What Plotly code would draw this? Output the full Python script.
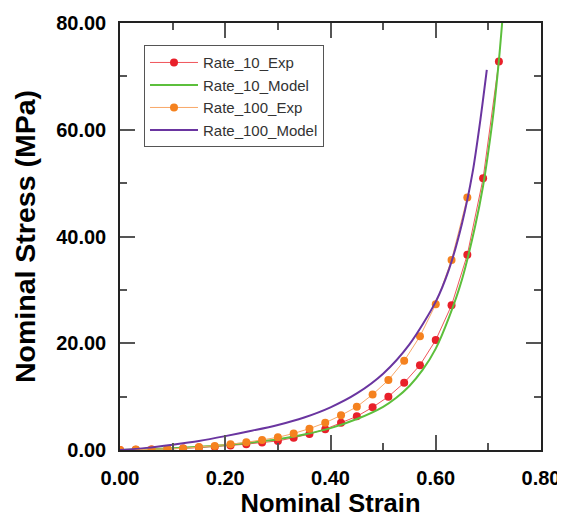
import plotly.graph_objects as go

# Rate 10 experimental
r10_exp_x = [0.00, 0.03, 0.06, 0.09, 0.12, 0.15, 0.18, 0.21, 0.24, 0.27, 0.30, 0.33, 0.36,
             0.39, 0.42, 0.45, 0.48, 0.51, 0.54, 0.57, 0.60, 0.63, 0.66, 0.69, 0.72]
r10_exp_y = [0.0, 0.05, 0.1, 0.2, 0.3, 0.45, 0.6, 0.85, 1.1, 1.4, 1.7, 2.3, 3.0,
             3.9, 5.1, 6.3, 8.0, 10.0, 12.6, 15.9, 20.6, 27.1, 36.6, 50.9, 72.8]

# Rate 10 model
r10_mod_x = [0.00, 0.05, 0.10, 0.15, 0.20, 0.25, 0.30, 0.35, 0.40, 0.45, 0.50, 0.525, 0.55,
             0.575, 0.60, 0.625, 0.65, 0.675, 0.69, 0.70, 0.71, 0.72, 0.727]
r10_mod_y = [0.0, 0.15, 0.35, 0.6, 0.95, 1.4, 2.0, 2.9, 4.1, 5.8, 8.1, 9.8, 12.0,
             15.0, 19.0, 24.8, 32.0, 42.0, 49.5, 56.0, 63.5, 73.0, 81.0]

# Rate 100 experimental
r100_exp_x = [0.00, 0.03, 0.06, 0.09, 0.12, 0.15, 0.18, 0.21, 0.24, 0.27, 0.30, 0.33,
              0.36, 0.39, 0.42, 0.45, 0.48, 0.51, 0.54, 0.57, 0.60, 0.63, 0.66]
r100_exp_y = [0.0, 0.1, 0.1, 0.2, 0.3, 0.56, 0.75, 1.07, 1.44, 1.87, 2.37, 3.1,
              4.0, 5.1, 6.5, 8.1, 10.4, 13.1, 16.7, 21.3, 27.3, 35.6, 47.3]

# Rate 100 model
r100_mod_x = [0.00, 0.05, 0.10, 0.15, 0.20, 0.25, 0.30, 0.35, 0.40, 0.45, 0.50, 0.55,
              0.60, 0.625, 0.65, 0.67, 0.685, 0.697]
r100_mod_y = [0.0, 0.4, 1.0, 1.7, 2.6, 3.6, 4.7, 6.1, 8.0, 10.6, 14.3, 19.8,
              27.8, 33.8, 42.5, 52.0, 62.0, 71.2]

x_ticks = [0.0, 0.2, 0.4, 0.6, 0.8]
y_ticks = [0, 20, 40, 60, 80]

FONT = "Arial, Liberation Sans, sans-serif"

fig = go.Figure()
fig.add_trace(go.Scatter(x=r10_exp_x, y=r10_exp_y, name="Rate_10_Exp", mode="lines+markers",
                         line=dict(color="#f0555a", width=1),
                         marker=dict(color="#e8202a", size=8)))
fig.add_trace(go.Scatter(x=r10_mod_x, y=r10_mod_y, name="Rate_10_Model", mode="lines",
                         line=dict(color="#5cbf3c", width=2, shape="spline", smoothing=0.8)))
fig.add_trace(go.Scatter(x=r100_exp_x, y=r100_exp_y, name="Rate_100_Exp", mode="lines+markers",
                         line=dict(color="#f8a868", width=1),
                         marker=dict(color="#f5821f", size=8)))
fig.add_trace(go.Scatter(x=r100_mod_x, y=r100_mod_y, name="Rate_100_Model", mode="lines",
                         line=dict(color="#6a35a0", width=2, shape="spline", smoothing=0.8)))

axis_common = dict(
    showline=True, linecolor="#222222", linewidth=1.5, mirror="allticks",
    ticks="inside", ticklen=15, tickwidth=1.5, tickcolor="#555555",
    showgrid=False, zeroline=False, automargin=False,
    tickfont=dict(family=FONT, size=20, color="#000000", weight="bold"),
)

fig.update_xaxes(range=[0, 0.8], tickvals=x_ticks, tickformat=".2f",
                 minor=dict(dtick=0.1, ticks="inside", ticklen=7, tickwidth=1.5, tickcolor="#555555"),
                 title=dict(text="Nominal Strain", font=dict(family=FONT, size=25.5, color="#000000", weight="bold"), standoff=3),
                 ticklabelstandoff=9,
                 **axis_common)
fig.update_yaxes(range=[0, 80], tickvals=y_ticks, tickformat=".2f",
                 minor=dict(dtick=10, ticks="inside", ticklen=7, tickwidth=1.5, tickcolor="#555555"),
                 title=dict(text="Nominal Stress (MPa)", font=dict(family=FONT, size=28.5, color="#000000", weight="bold"), standoff=12),
                 ticklabelstandoff=8,
                 **axis_common)

# the page body adds an 8px offset, so the figure is sized to fit the window
fig.update_layout(
    width=557, height=512,
    margin=dict(l=112, r=24, t=15, b=70),
    plot_bgcolor="white", paper_bgcolor="white",
    showlegend=True,
    legend=dict(x=0.057, y=0.948, xanchor="left", yanchor="top",
                bgcolor="white", bordercolor="#555555", borderwidth=1,
                font=dict(family=FONT, size=15, color="#333333"),
                tracegroupgap=0, itemwidth=48),
)

fig.write_html("out.html")
